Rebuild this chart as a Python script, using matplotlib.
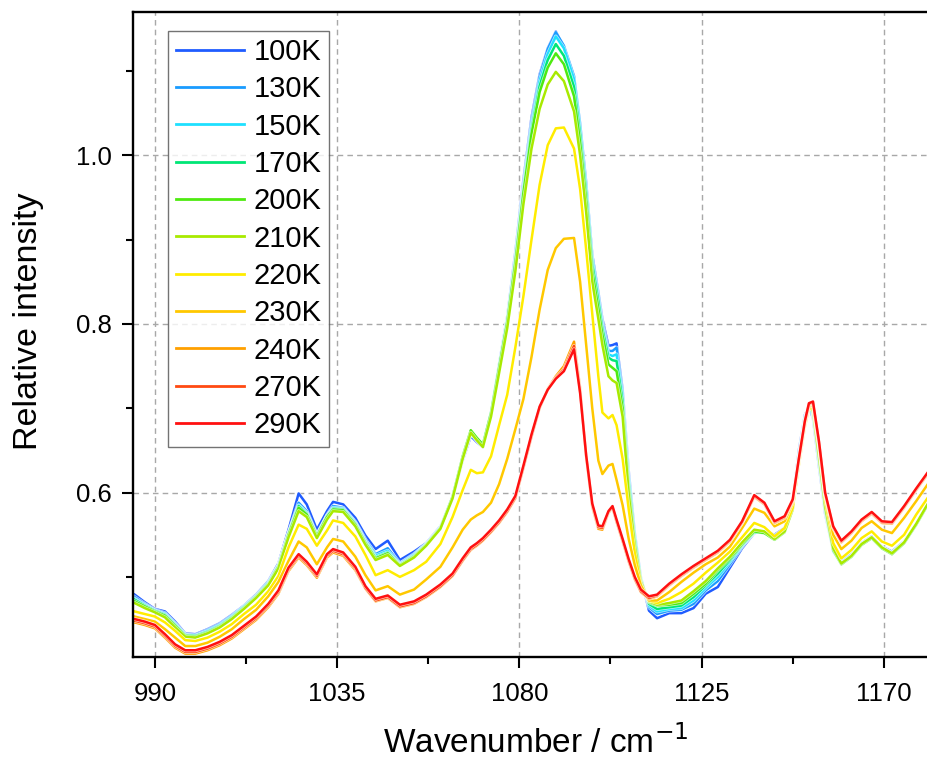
import matplotlib
matplotlib.use("Agg")
import matplotlib.pyplot as plt
import matplotlib.patheffects as pe
from matplotlib.ticker import MultipleLocator

plt.rcParams['font.family'] = ['Liberation Sans', 'DejaVu Sans']

# wavenumber grid (cm-1)
wn = [985, 987.5, 990, 992.5, 995, 997.5, 1000, 1003, 1006, 1009, 1012, 1015, 1018, 1020.5, 1023, 1025.5, 1027.5, 1030, 1032.5, 1034,
      1036.5, 1039.5, 1042, 1044.5, 1047.5, 1050.5, 1054, 1057, 1060.5, 1063.5,
      1066, 1068, 1069.5, 1071, 1073, 1075, 1077, 1079, 1081, 1083,
      1085, 1087, 1089, 1091, 1093.5, 1095, 1096.5, 1098, 1099.5, 1100.5, 1102, 1103, 1104, 1105.5, 1107, 1108.5, 1110, 1112, 1114,
      1117, 1120, 1123, 1126, 1129, 1132, 1135, 1138, 1140.5, 1143,
      1145.5, 1147.5, 1149, 1150.5, 1151.5, 1152.5, 1154, 1155.5, 1157.5, 1159.5, 1162, 1164.5, 1167, 1169.5, 1172, 1175, 1178, 1181]

i100 = [0.479, 0.470, 0.462, 0.459, 0.447, 0.433, 0.432, 0.438, 0.445, 0.455, 0.466, 0.479, 0.495, 0.516, 0.556, 0.599, 0.586, 0.556, 0.578, 0.589,
        0.586, 0.570, 0.549, 0.533, 0.543, 0.520, 0.530, 0.540, 0.560, 0.593,
        0.638, 0.667, 0.660, 0.654, 0.694, 0.753, 0.809, 0.885, 0.971, 1.045,
        1.096, 1.127, 1.147, 1.128, 1.092, 1.036, 0.965, 0.882, 0.838, 0.806, 0.774, 0.775, 0.777, 0.722, 0.626, 0.552, 0.500, 0.460, 0.451,
        0.457, 0.457, 0.463, 0.480, 0.488, 0.511, 0.534, 0.552, 0.554, 0.550,
        0.558, 0.590, 0.650, 0.692, 0.702, 0.688, 0.630, 0.575, 0.530, 0.518, 0.527, 0.540, 0.548, 0.536, 0.530, 0.542, 0.563, 0.588]

i130 = [0.476, 0.468, 0.461, 0.457, 0.445, 0.432, 0.431, 0.437, 0.444, 0.454, 0.465, 0.478, 0.494, 0.514, 0.552, 0.588, 0.578, 0.550, 0.573, 0.584,
        0.582, 0.565, 0.544, 0.527, 0.534, 0.516, 0.527, 0.539, 0.559, 0.594,
        0.640, 0.670, 0.662, 0.655, 0.695, 0.752, 0.807, 0.882, 0.967, 1.040,
        1.093, 1.126, 1.146, 1.130, 1.094, 1.038, 0.968, 0.882, 0.836, 0.802, 0.768, 0.768, 0.772, 0.718, 0.622, 0.550, 0.499, 0.464, 0.456,
        0.460, 0.461, 0.468, 0.484, 0.495, 0.515, 0.536, 0.553, 0.554, 0.549,
        0.556, 0.587, 0.647, 0.690, 0.702, 0.690, 0.633, 0.577, 0.531, 0.517, 0.526, 0.539, 0.547, 0.535, 0.529, 0.541, 0.562, 0.587]

i150 = [0.474, 0.467, 0.460, 0.456, 0.444, 0.431, 0.430, 0.436, 0.443, 0.453, 0.465, 0.477, 0.493, 0.513, 0.551, 0.585, 0.576, 0.548, 0.572, 0.582,
        0.581, 0.564, 0.542, 0.525, 0.531, 0.515, 0.526, 0.539, 0.559, 0.595,
        0.641, 0.671, 0.663, 0.656, 0.695, 0.750, 0.805, 0.878, 0.962, 1.035,
        1.088, 1.120, 1.141, 1.127, 1.090, 1.033, 0.962, 0.877, 0.832, 0.798, 0.764, 0.762, 0.764, 0.714, 0.618, 0.548, 0.498, 0.466, 0.459,
        0.462, 0.463, 0.472, 0.487, 0.500, 0.518, 0.537, 0.553, 0.553, 0.547,
        0.555, 0.585, 0.645, 0.689, 0.702, 0.692, 0.636, 0.579, 0.531, 0.516, 0.525, 0.539, 0.547, 0.535, 0.528, 0.541, 0.562, 0.587]

i170 = [0.473, 0.466, 0.460, 0.455, 0.443, 0.431, 0.430, 0.435, 0.442, 0.452, 0.464, 0.477, 0.492, 0.513, 0.551, 0.584, 0.575, 0.549, 0.572, 0.581,
        0.580, 0.563, 0.541, 0.523, 0.529, 0.514, 0.525, 0.538, 0.558, 0.595,
        0.642, 0.673, 0.664, 0.657, 0.695, 0.749, 0.803, 0.875, 0.958, 1.030,
        1.082, 1.113, 1.132, 1.118, 1.081, 1.025, 0.955, 0.871, 0.827, 0.794, 0.760, 0.757, 0.756, 0.708, 0.612, 0.545, 0.497, 0.468, 0.462,
        0.464, 0.466, 0.476, 0.490, 0.504, 0.520, 0.538, 0.553, 0.552, 0.545,
        0.554, 0.582, 0.642, 0.687, 0.703, 0.694, 0.638, 0.580, 0.531, 0.515, 0.524, 0.538, 0.546, 0.534, 0.527, 0.540, 0.562, 0.587]

i200 = [0.471, 0.465, 0.459, 0.454, 0.442, 0.430, 0.429, 0.434, 0.441, 0.451, 0.463, 0.476, 0.491, 0.512, 0.550, 0.582, 0.574, 0.548, 0.571, 0.580,
        0.579, 0.562, 0.540, 0.522, 0.528, 0.514, 0.524, 0.538, 0.558, 0.595,
        0.643, 0.674, 0.665, 0.657, 0.694, 0.748, 0.802, 0.872, 0.955, 1.025,
        1.075, 1.104, 1.121, 1.108, 1.070, 1.015, 0.945, 0.862, 0.818, 0.787, 0.752, 0.748, 0.744, 0.700, 0.605, 0.540, 0.495, 0.470, 0.466,
        0.467, 0.469, 0.480, 0.492, 0.508, 0.522, 0.539, 0.554, 0.552, 0.544,
        0.553, 0.580, 0.640, 0.685, 0.703, 0.696, 0.640, 0.582, 0.532, 0.515, 0.524, 0.538, 0.546, 0.534, 0.527, 0.540, 0.562, 0.587]

i210 = [0.469, 0.463, 0.458, 0.452, 0.440, 0.429, 0.428, 0.433, 0.440, 0.450, 0.462, 0.475, 0.490, 0.510, 0.547, 0.578, 0.571, 0.546, 0.568, 0.578,
        0.577, 0.560, 0.538, 0.520, 0.526, 0.513, 0.523, 0.537, 0.557, 0.593,
        0.640, 0.671, 0.662, 0.654, 0.690, 0.742, 0.795, 0.862, 0.942, 1.008,
        1.055, 1.084, 1.099, 1.088, 1.052, 1.000, 0.932, 0.850, 0.806, 0.775, 0.738, 0.733, 0.730, 0.690, 0.598, 0.536, 0.494, 0.471, 0.467,
        0.469, 0.472, 0.483, 0.495, 0.510, 0.524, 0.541, 0.556, 0.554, 0.545,
        0.554, 0.580, 0.638, 0.683, 0.702, 0.697, 0.643, 0.584, 0.534, 0.516, 0.525, 0.539, 0.547, 0.535, 0.528, 0.541, 0.563, 0.588]

i220 = [0.459, 0.456, 0.453, 0.446, 0.436, 0.425, 0.424, 0.428, 0.435, 0.444, 0.456, 0.467, 0.483, 0.501, 0.535, 0.562, 0.557, 0.537, 0.555, 0.567,
        0.564, 0.548, 0.526, 0.502, 0.508, 0.500, 0.508, 0.518, 0.539, 0.571,
        0.603, 0.627, 0.623, 0.624, 0.643, 0.680, 0.716, 0.772, 0.833, 0.900,
        0.965, 1.012, 1.032, 1.033, 1.008, 0.960, 0.888, 0.812, 0.738, 0.695, 0.688, 0.692, 0.680, 0.640, 0.580, 0.528, 0.491, 0.472, 0.469,
        0.474, 0.482, 0.492, 0.505, 0.517, 0.530, 0.547, 0.564, 0.559, 0.548,
        0.558, 0.582, 0.632, 0.678, 0.700, 0.700, 0.652, 0.592, 0.540, 0.522, 0.532, 0.546, 0.554, 0.542, 0.537, 0.550, 0.574, 0.595]

i230 = [0.453, 0.450, 0.447, 0.438, 0.428, 0.418, 0.418, 0.422, 0.429, 0.438, 0.450, 0.461, 0.477, 0.494, 0.519, 0.542, 0.535, 0.515, 0.535, 0.545,
        0.542, 0.524, 0.502, 0.484, 0.489, 0.479, 0.485, 0.497, 0.512, 0.535,
        0.556, 0.568, 0.573, 0.577, 0.588, 0.610, 0.640, 0.675, 0.711, 0.761,
        0.817, 0.864, 0.890, 0.901, 0.902, 0.850, 0.775, 0.700, 0.638, 0.622, 0.632, 0.634, 0.615, 0.585, 0.545, 0.514, 0.490, 0.472, 0.472,
        0.482, 0.494, 0.505, 0.515, 0.523, 0.536, 0.558, 0.581, 0.576, 0.560,
        0.566, 0.588, 0.636, 0.680, 0.702, 0.704, 0.656, 0.598, 0.550, 0.533, 0.543, 0.558, 0.566, 0.556, 0.552, 0.570, 0.590, 0.611]

i240 = [0.446, 0.443, 0.439, 0.428, 0.416, 0.409, 0.409, 0.413, 0.419, 0.427, 0.438, 0.449, 0.464, 0.480, 0.507, 0.523, 0.514, 0.499, 0.523, 0.529,
        0.525, 0.508, 0.486, 0.471, 0.475, 0.464, 0.468, 0.476, 0.488, 0.501,
        0.519, 0.532, 0.537, 0.543, 0.553, 0.564, 0.577, 0.593, 0.629, 0.666,
        0.700, 0.723, 0.738, 0.750, 0.779, 0.724, 0.642, 0.583, 0.557, 0.556, 0.576, 0.582, 0.565, 0.542, 0.518, 0.497, 0.482, 0.474, 0.477,
        0.490, 0.501, 0.511, 0.520, 0.529, 0.542, 0.564, 0.595, 0.586, 0.564,
        0.570, 0.590, 0.638, 0.683, 0.704, 0.706, 0.658, 0.598, 0.558, 0.541, 0.552, 0.566, 0.575, 0.564, 0.563, 0.582, 0.603, 0.623]

i270 = [0.448, 0.445, 0.441, 0.430, 0.418, 0.411, 0.411, 0.415, 0.421, 0.429, 0.440, 0.451, 0.466, 0.482, 0.509, 0.525, 0.516, 0.501, 0.525, 0.531,
        0.527, 0.510, 0.487, 0.472, 0.476, 0.465, 0.469, 0.477, 0.489, 0.502,
        0.520, 0.533, 0.538, 0.544, 0.554, 0.565, 0.578, 0.594, 0.630, 0.667,
        0.701, 0.722, 0.736, 0.746, 0.774, 0.720, 0.643, 0.585, 0.559, 0.558, 0.577, 0.583, 0.566, 0.543, 0.519, 0.498, 0.483, 0.475, 0.478,
        0.491, 0.502, 0.512, 0.521, 0.530, 0.543, 0.565, 0.596, 0.587, 0.565,
        0.571, 0.591, 0.639, 0.684, 0.705, 0.707, 0.659, 0.599, 0.559, 0.542, 0.553, 0.567, 0.576, 0.565, 0.564, 0.583, 0.604, 0.624]

i290 = [0.450, 0.447, 0.443, 0.432, 0.420, 0.413, 0.413, 0.417, 0.423, 0.431, 0.442, 0.453, 0.468, 0.484, 0.511, 0.527, 0.518, 0.503, 0.527, 0.533,
        0.529, 0.512, 0.489, 0.474, 0.478, 0.467, 0.471, 0.479, 0.491, 0.504,
        0.522, 0.535, 0.540, 0.546, 0.556, 0.567, 0.580, 0.596, 0.632, 0.669,
        0.702, 0.722, 0.735, 0.744, 0.770, 0.718, 0.644, 0.587, 0.561, 0.560, 0.578, 0.584, 0.568, 0.545, 0.521, 0.500, 0.485, 0.477, 0.479,
        0.492, 0.503, 0.513, 0.522, 0.531, 0.544, 0.566, 0.597, 0.588, 0.566,
        0.572, 0.592, 0.640, 0.685, 0.706, 0.708, 0.660, 0.600, 0.560, 0.543, 0.554, 0.568, 0.577, 0.566, 0.565, 0.584, 0.605, 0.625]

labels = ['100K', '130K', '150K', '170K', '200K', '210K', '220K', '230K', '240K', '270K', '290K']
series = [i100, i130, i150, i170, i200, i210, i220, i230, i240, i270, i290]
colors = ['#1f5cff', '#1a9cff', '#1fe0ff', '#00e676', '#4eea10', '#a8ea00',
          '#ffec00', '#ffc800', '#ffa000', '#ff4a12', '#ff1010']

fig = plt.figure(figsize=(9.28, 7.6), dpi=100)
ax = fig.add_axes([133 / 928, 103 / 760, 1 - 133 / 928, 645 / 760])

halo = [pe.Stroke(linewidth=2.8, foreground='white', alpha=0.7), pe.Normal()]
for y, lab, c in zip(series, labels, colors):
    ax.plot(wn, y, color=c, lw=1.8, label=lab, path_effects=halo)

ax.set_xlim(984.6, 1180.9)
ax.set_ylim(0.405, 1.17)

ax.xaxis.set_major_locator(MultipleLocator(45))
ax.xaxis.set_minor_locator(MultipleLocator(22.5))
ax.yaxis.set_minor_locator(MultipleLocator(0.1))
ax.set_yticks([0.6, 0.8, 1.0])
ax.set_yticklabels(['0.6', '0.8', '1.0'])

ax.grid(True, which='major', color='#a8a8a8', linestyle=(0, (4, 3)), linewidth=1.0)
ax.tick_params(which='major', direction='out', length=8, width=1.5, labelsize=18.5, pad=7)
ax.tick_params(axis='x', which='major', pad=10)
ax.tick_params(which='minor', direction='out', length=5, width=1.5)

for side in ['left', 'bottom', 'top']:
    ax.spines[side].set_linewidth(1.7)
ax.spines['right'].set_visible(False)

ax.set_xlabel('Wavenumber / cm$^{-1}$', fontsize=24)
ax.set_ylabel('Relative intensity', fontsize=24.5)
ax.xaxis.set_label_coords(0.506, -0.105)
ax.yaxis.set_label_coords(-0.112, 0.52)

leg = ax.legend(loc='upper left', bbox_to_anchor=(0.0444, 0.971), borderaxespad=0,
                fontsize=21, frameon=True, fancybox=False, labelspacing=0.32,
                handlelength=2.36, handletextpad=0.32, borderpad=0.25)
leg.get_frame().set_edgecolor('#505050')
leg.get_frame().set_linewidth(1.0)
for h in leg.get_lines():
    h.set_path_effects([])
    h.set_linewidth(2.0)

fig.savefig('out.png', dpi=100)
